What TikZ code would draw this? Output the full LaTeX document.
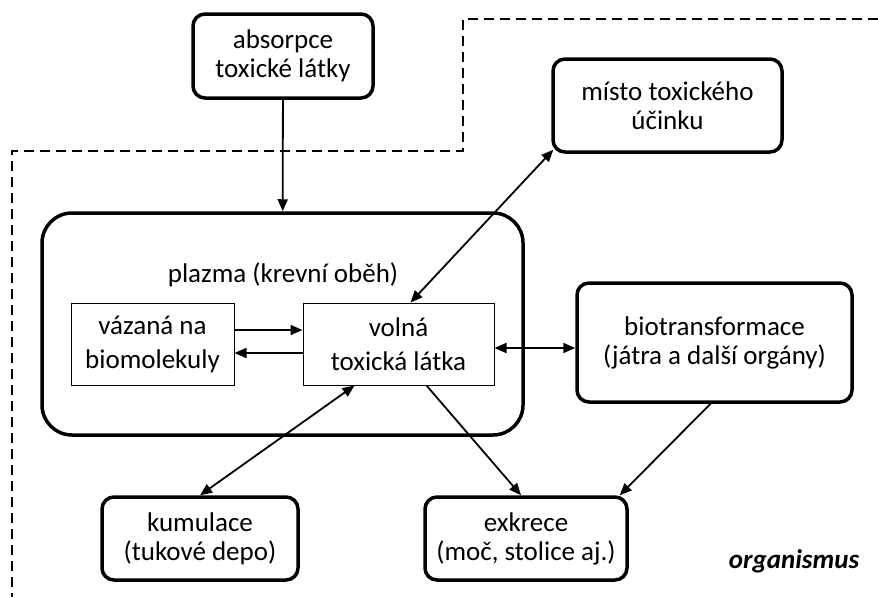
\documentclass[tikz,border=0pt]{standalone}
\usepackage{fontspec}
\setmainfont{Carlito}
\usepackage{tikz}
\usetikzlibrary{positioning,arrows.meta}

\begin{document}
\begin{tikzpicture}[x=1pt, y=-1pt,
  blok/.style={draw, line width=3.5pt, rounded corners=12pt, align=center,
               font=\fontsize{27}{29}\selectfont, inner sep=0pt},
  ramecek/.style={draw, line width=1pt, align=center, minimum height=82pt,
                  font=\fontsize{27}{34}\selectfont, inner sep=0pt},
  sipka/.style={-{Triangle[length=12pt,width=10pt]}, line width=1.8pt},
  obousmerna/.style={{Triangle[length=12pt,width=10pt]}-{Triangle[length=12pt,width=10pt]},
                     line width=1.8pt},
  hranice/.style={line width=2pt, dash pattern=on 10pt off 6pt}]
  \useasboundingbox (0,0) rectangle (878,597);
  \draw[hranice] (878,19) -- (463,19) -- (463,151) -- (12,151) -- (12,597);
  \node[blok, minimum width=180pt, minimum height=84pt] (absorpce) at (283,56)
    {absorpce\\toxické látky};
  \node[blok, minimum width=229pt, minimum height=93pt] (misto) at (667.5,105.5)
    {místo toxického\\účinku};
  \node[blok, rounded corners=30pt, minimum width=481pt, minimum height=222pt]
    (plazma) at (282.5,324) {};
  \node[font=\fontsize{27}{29}\selectfont] (nadpis) at (283,275) {plazma (krevní oběh)};
  \node[ramecek, minimum width=163pt] (vazana) at (152.5,344) {vázaná na\\biomolekuly};
  \node[ramecek, minimum width=191pt] (volna) at (398.5,344) {volná\\toxická látka};
  \node[blok, minimum width=275pt, minimum height=119pt] (biotrans) at (714.5,342.5)
    {biotransformace\\(játra a další orgány)};
  \node[blok, minimum width=196pt, minimum height=83pt] (kumulace) at (200,538.5)
    {kumulace\\(tukové depo)};
  \node[blok, minimum width=202pt, minimum height=83pt] (exkrece) at (526,538.5)
    {exkrece\\(moč, stolice aj.)};
  \node[font=\fontsize{27}{29}\selectfont\bfseries\itshape] (organismus) at (794,561)
    {organismus};
  \draw[sipka] (absorpce) -- (plazma);
  \draw[obousmerna] ([xshift=12pt]volna.north) -- ([xshift=2pt,yshift=4pt]misto.south west);
  \draw[sipka] ([yshift=14pt]vazana.east) -- ([yshift=14pt]volna.west);
  \draw[sipka] ([yshift=-9pt]volna.west) -- ([yshift=-9pt]vazana.east);
  \draw[obousmerna] ([yshift=-4pt]volna.east) -- ([yshift=-5.5pt]biotrans.west);
  \draw[obousmerna] ([xshift=-44pt]volna.south) -- (kumulace.north);
  \draw[sipka] ([xshift=28pt]volna.south) -- ([xshift=-5pt]exkrece.north);
  \draw[sipka] ([xshift=-4pt]biotrans.south) -- ([xshift=-9pt]exkrece.north east);
\end{tikzpicture}
\end{document}
